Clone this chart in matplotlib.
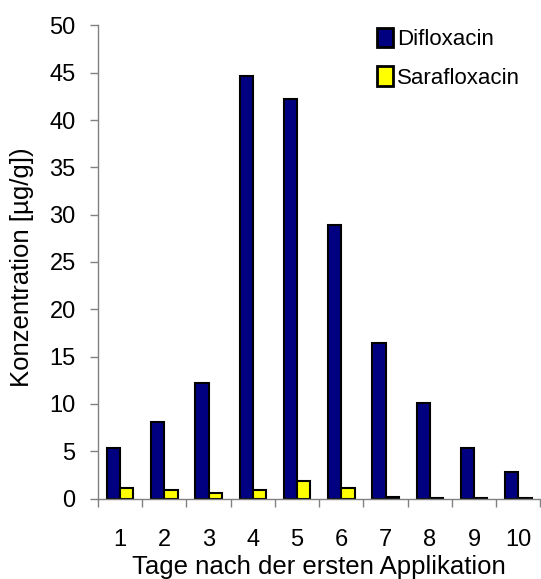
import matplotlib.pyplot as plt
import numpy as np

plt.rcParams['font.family'] = ['Liberation Sans', 'DejaVu Sans']

days = [1, 2, 3, 4, 5, 6, 7, 8, 9, 10]
difloxacin = [5.3, 8.1, 12.2, 44.7, 42.2, 28.9, 16.4, 10.1, 5.3, 2.8]
sarafloxacin = [1.06, 0.88, 0.6, 0.95, 1.83, 1.13, 0.2, 0.1, 0.05, 0.05]

fig = plt.figure(figsize=(5.41, 5.79), dpi=100)
ax = fig.add_axes([0.181, 0.139, 0.818, 0.817])

x = np.array(days)
w = 0.3
ax.bar(x - w / 2, difloxacin, w, color='#000080', edgecolor='black', linewidth=1.5, label='Difloxacin')
ax.bar(x + w / 2, sarafloxacin, w, color='#FFFF00', edgecolor='black', linewidth=1.5, label='Sarafloxacin')

ax.set_xlim(0.5, 10.5)
ax.set_ylim(0, 50)
ax.set_yticks(range(0, 51, 5))
ax.set_xticks(days)
ax.set_xticks(np.arange(0.5, 10.6, 1), minor=True)
ax.tick_params(axis='x', which='major', length=0, pad=22, labelsize=17)
ax.tick_params(axis='x', which='minor', length=6, width=1, color='#808080')
ax.tick_params(axis='y', length=6, width=1, color='#808080', labelsize=17, pad=10)

for s in ['top', 'right']:
    ax.spines[s].set_visible(False)
for s in ['left', 'bottom']:
    ax.spines[s].set_color('#808080')
    ax.spines[s].set_linewidth(1)

ax.set_xlabel('Tage nach der ersten Applikation', fontsize=18.5, labelpad=3)
ax.set_ylabel('Konzentration [µg/g])', fontsize=18.5)
ax.yaxis.set_label_coords(-0.145, 0.49)

leg = ax.legend(loc='upper right', bbox_to_anchor=(1.0, 1.038), frameon=False, fontsize=16,
                handlelength=0.7, handleheight=0.95, handletextpad=0.2, labelspacing=0.75)
for h in leg.legend_handles:
    h.set_linewidth(2)

fig.savefig('out.png', dpi=100)
